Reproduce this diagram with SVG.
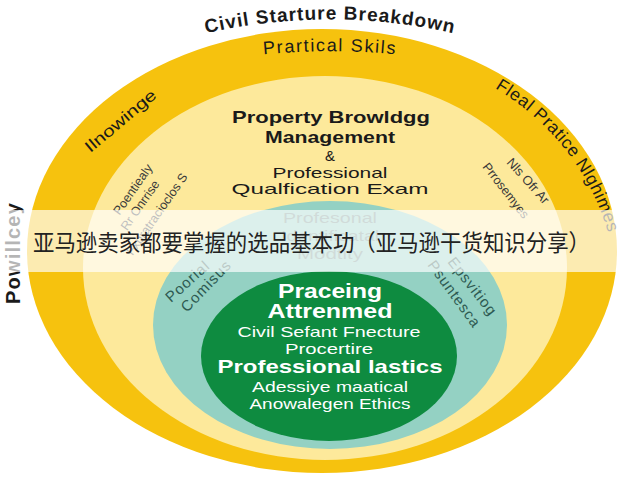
<svg xmlns="http://www.w3.org/2000/svg" width="640" height="480" viewBox="0 0 640 480">
<style>
.s{font-family:"Liberation Sans",Arial,sans-serif;}
.b{font-weight:bold;}
.k{fill:#1a1a1a;}
.w{fill:#ffffff;}
.g{fill:#3a3a3a;}
.t{fill:#2e5a52;}
.m{text-anchor:middle;}
</style>
<defs>
<path id="pTop" d="M 195 36 A 560 560 0 0 1 465 36"/>
<path id="pSkill" d="M 240 57 A 700 700 0 0 1 420 57"/>
<path id="pRight" d="M 495 88 Q 580 140 608 232"/>
</defs>
<rect x="0" y="0" width="640" height="480" fill="#ffffff"/>
<g id="outer-ring">
<ellipse cx="322" cy="251" rx="295" ry="222" fill="#F6C20E"/>
<text class="s b k m" font-size="19" letter-spacing="1"><textPath href="#pTop" startOffset="50%">Civil Starture Breakdown</textPath></text>
<text class="s k m" font-size="18" letter-spacing="1.6"><textPath href="#pSkill" startOffset="50%">Prartical Skils</textPath></text>
<text class="s k m" font-size="16" transform="translate(124,125) rotate(-40)" textLength="88" lengthAdjust="spacingAndGlyphs">Ilnowinge</text>
<text class="s k" font-size="17.5" letter-spacing="0.6"><textPath href="#pRight" startOffset="0">Fleal Pratice Nlghimes</textPath></text>
<text class="s b k m" font-size="20" letter-spacing="1.2" transform="translate(20,253) rotate(-90)">Powillcey</text>
</g>
<g id="middle-ring">
<ellipse cx="325" cy="268" rx="242" ry="192" fill="#FDE99B"/>
<text class="s b k m" x="331" y="123" font-size="17" textLength="198" lengthAdjust="spacingAndGlyphs">Property Browldgg</text>
<text class="s b k m" x="330" y="143" font-size="17" textLength="130" lengthAdjust="spacingAndGlyphs">Management</text>
<text class="s k m" x="330" y="161" font-size="15">&amp;</text>
<text class="s k m" x="330" y="178" font-size="15" textLength="115" lengthAdjust="spacingAndGlyphs">Professional</text>
<text class="s k m" x="330" y="194" font-size="15" textLength="197" lengthAdjust="spacingAndGlyphs">Qualfication Exam</text>
<g class="s g" font-size="12.5" text-anchor="end">
<text transform="translate(153,168) rotate(-55)">Poentiealy</text>
<text transform="translate(160,184) rotate(-55)">Rr Onrrise</text>
<text transform="translate(188,177) rotate(-55)">Fxpratracioclos S</text>
</g>
<g class="s g" font-size="13">
<text transform="translate(506,163) rotate(48)">Nls Ofr Ar</text>
<text transform="translate(482,167) rotate(52)" font-size="12.5">Prrosemyes</text>
</g>
</g>
<g id="inner-ring">
<ellipse cx="330" cy="325" rx="177" ry="124" fill="#94D1C3"/>
<text class="s m" x="330" y="223" font-size="15" fill="#6f8f89" textLength="94" lengthAdjust="spacingAndGlyphs">Profesonal</text>
<text class="s m" x="330" y="241" font-size="15" fill="#6f8f89" textLength="98" lengthAdjust="spacingAndGlyphs">Identificatal</text>
<text class="s m" x="330" y="259" font-size="15" fill="#6f8f89" textLength="66" lengthAdjust="spacingAndGlyphs">Modtity</text>
<g class="s t" font-size="15" letter-spacing="1">
<text transform="translate(171,303) rotate(-42)">Poorial</text>
<text transform="translate(187,313) rotate(-46)">Comisus</text>
<text transform="translate(447,262) rotate(52)">Epsvitiog</text>
<text transform="translate(427,265) rotate(54)">Psuntesca</text>
</g>
</g>
<g id="core">
<ellipse cx="329" cy="356" rx="128" ry="85" fill="#0E8B40"/>
<text class="s b w m" x="330" y="298" font-size="20" textLength="104" lengthAdjust="spacingAndGlyphs">Praceing</text>
<text class="s b w m" x="330" y="318" font-size="20" textLength="125" lengthAdjust="spacingAndGlyphs">Attrenmed</text>
<text class="s w m" x="329" y="337" font-size="15" textLength="183" lengthAdjust="spacingAndGlyphs">Civil Sefant Fnecture</text>
<text class="s w m" x="329" y="354" font-size="15" textLength="88" lengthAdjust="spacingAndGlyphs">Procertire</text>
<text class="s b w m" x="330" y="373" font-size="19" textLength="225" lengthAdjust="spacingAndGlyphs">Professional lastics</text>
<text class="s w m" x="330" y="392" font-size="15" textLength="156" lengthAdjust="spacingAndGlyphs">Adessiye maatical</text>
<text class="s w m" x="330" y="409" font-size="15" textLength="161" lengthAdjust="spacingAndGlyphs">Anowalegen Ethics</text>
</g>
<g id="connectors"/>
<g id="banner">
<rect x="0" y="210" width="640" height="62" fill="#ffffff" fill-opacity="0.68"/>
<text x="33" y="251" font-family="'Noto Sans CJK SC','Noto Sans CJK JP',sans-serif" font-size="23" fill="#222222" textLength="557" lengthAdjust="spacingAndGlyphs">亚马逊卖家都要掌握的选品基本功（亚马逊干货知识分享）</text>
</g>
</svg>
